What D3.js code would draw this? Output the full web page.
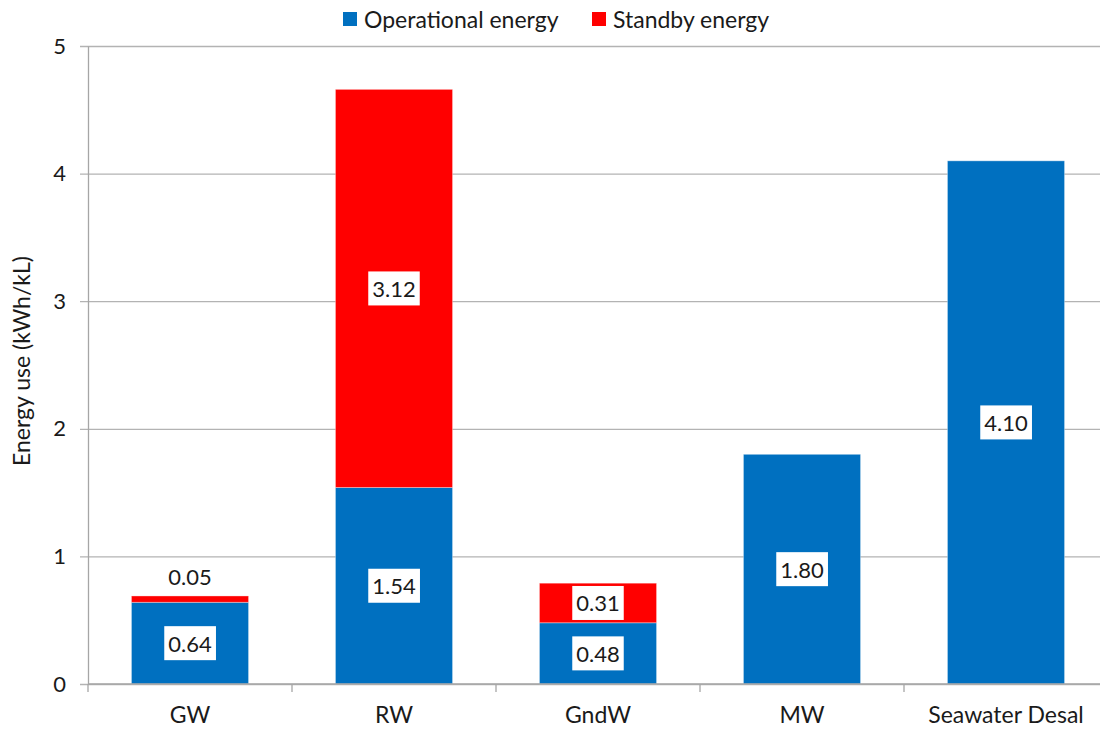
<!DOCTYPE html>
<html>
<head>
<meta charset="utf-8">
<script src="https://cdn.jsdelivr.net/npm/d3@7"></script>
<style>
  html, body { margin: 0; padding: 0; background: #fff; }
  svg { display: block; }
  text { font-family: Lato, "Open Sans", sans-serif; fill: #1a1a1a; }
</style>
</head>
<body>
<svg id="chart" width="1100" height="729"></svg>
<script>
// Energy use per water source, split into operational and standby parts
const categories = ["GW", "RW", "GndW", "MW", "Seawater Desal"];
const operational = [0.64, 1.54, 0.48, 1.80, 4.10];
const standby = [0.05, 3.12, 0.31, 0, 0];
const seriesNames = ["Operational energy", "Standby energy"];
const seriesColors = ["#0070C0", "#FF0000"];
const yTicks = [0, 1, 2, 3, 4, 5];
const yTitle = "Energy use (kWh/kL)";

const svg = d3.select("#chart");
const margin = { left: 88, right: -8, top: 46, bottom: 45 };
const W = 1100, H = 729;

const x = d3.scaleBand()
  .domain(categories)
  .range([margin.left, W - margin.right])
  .paddingInner(0.426)
  .paddingOuter(0.213);

const y = d3.scaleLinear()
  .domain([0, 5])
  .range([H - margin.bottom, margin.top]);

// horizontal gridlines with short outward ticks
const grid = svg.append("g")
  .attr("transform", `translate(${margin.left},0)`)
  .call(d3.axisLeft(y).tickValues(yTicks).tickSize(-(W - margin.right - margin.left)).tickFormat(""));
grid.select(".domain").remove();
grid.selectAll(".tick line")
  .attr("x1", -8)
  .attr("stroke", "#b3b3b3")
  .attr("stroke-width", 1.3);

// y axis line and labels
const yAxis = svg.append("g")
  .attr("transform", `translate(${margin.left},0)`)
  .call(d3.axisLeft(y).tickValues(yTicks).tickSize(0).tickPadding(22).tickFormat(d3.format("d")));
yAxis.select(".domain").attr("stroke", "#a6a6a6").attr("stroke-width", 1.3);
yAxis.selectAll("text")
  .style("font-size", "22px")
  .style("font-family", "Lato, sans-serif")
  .attr("fill", "#1a1a1a");

// stacked data
const rows = categories.map((c, i) => ({ cat: c, op: operational[i], sb: standby[i] }));
const stack = d3.stack().keys(["op", "sb"])(rows);

const barGroups = svg.append("g").selectAll("g")
  .data(stack)
  .join("g")
  .attr("fill", (d, i) => seriesColors[i]);

barGroups.selectAll("rect")
  .data(d => d.filter(p => p[1] - p[0] > 0))
  .join("rect")
  .attr("x", p => x(p.data.cat))
  .attr("width", x.bandwidth())
  .attr("y", p => y(p[1]))
  .attr("height", p => y(p[0]) - y(p[1]))
  .attr("stroke", "rgba(255,255,255,0.35)")
  .attr("stroke-width", 1);

// x axis: baseline and category boundary ticks
const x0 = margin.left, x1 = W - margin.right, yBase = y(0);
svg.append("line")
  .attr("x1", x0).attr("x2", x1).attr("y1", yBase).attr("y2", yBase)
  .attr("stroke", "#a6a6a6").attr("stroke-width", 1.3);
const step = x.step();
svg.append("g").selectAll("line")
  .data(d3.range(categories.length + 1))
  .join("line")
  .attr("x1", i => x0 + i * step)
  .attr("x2", i => x0 + i * step)
  .attr("y1", yBase)
  .attr("y2", yBase + 8)
  .attr("stroke", "#a6a6a6")
  .attr("stroke-width", 1.3);

svg.append("g").selectAll("text")
  .data(categories)
  .join("text")
  .attr("x", c => x(c) + x.bandwidth() / 2)
  .attr("y", yBase + 39)
  .attr("text-anchor", "middle")
  .style("font-size", "23px")
  .text(c => c);

// value labels in white boxes, centred in each segment
const labels = [];
stack.forEach(s => s.forEach(p => {
  const v = p[1] - p[0];
  if (v <= 0) return;
  labels.push({ cat: p.data.cat, v, lo: p[0], hi: p[1] });
}));

const labelG = svg.append("g");
labels.forEach(l => {
  const segH = y(l.lo) - y(l.hi);
  const cx = x(l.cat) + x.bandwidth() / 2;
  // thin segments get their label just above the bar
  const cy = segH < 30 ? y(l.hi) - 19 : (y(l.lo) + y(l.hi)) / 2;
  const g = labelG.append("g");
  const rect = g.append("rect").attr("fill", "#fff");
  const t = g.append("text")
    .attr("x", cx)
    .attr("y", cy)
    .attr("text-anchor", "middle")
    .attr("dominant-baseline", "central")
    .style("font-size", "22px")
    .text(d3.format(".2f")(l.v));
  const bb = t.node().getBBox();
  rect.attr("x", bb.x - 4).attr("y", cy - 17)
    .attr("width", bb.width + 8).attr("height", 34);
});

// y axis title
svg.append("text")
  .attr("transform", `translate(30,${(y(0) + y(5)) / 2 - 4}) rotate(-90)`)
  .attr("text-anchor", "middle")
  .style("font-size", "23px")
  .text(yTitle);

// legend
const legend = svg.append("g");
const legendX = [343, 592];
seriesNames.forEach((n, i) => {
  legend.append("rect")
    .attr("x", legendX[i]).attr("y", 12)
    .attr("width", 14).attr("height", 14)
    .attr("fill", seriesColors[i]);
  legend.append("text")
    .attr("x", legendX[i] + 21)
    .attr("y", 19)
    .attr("dominant-baseline", "central")
    .style("font-size", "23px")
    .text(n);
});
</script>
</body>
</html>
